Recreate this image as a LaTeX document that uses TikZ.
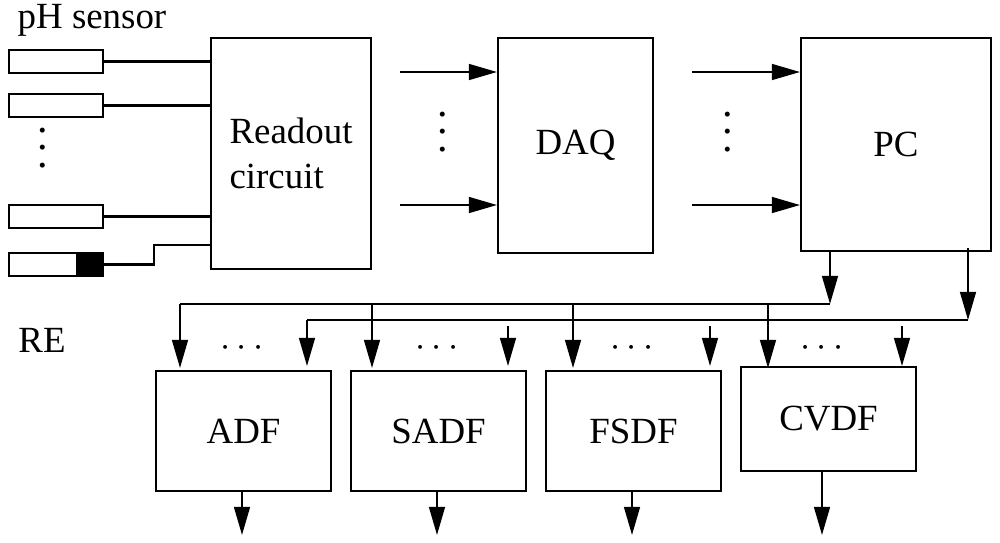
\documentclass[tikz,border=0pt]{standalone}
\usepackage{fontspec}
\setmainfont{Liberation Serif}
\usetikzlibrary{arrows.meta}
\tikzset{
  blk/.style={draw,line width=1.2pt,inner sep=0pt,font=\fontsize{21}{26}\selectfont,align=left},
  sens/.style={draw,line width=1.1pt,minimum width=1.88cm,minimum height=0.46cm,inner sep=0pt},
  wire/.style={line width=1.2pt},
  arr/.style={line width=1.2pt,-{Triangle[length=16pt,width=9pt]}},
  lbl/.style={font=\fontsize{21}{26}\selectfont,inner sep=0pt},
  vd/.style={font=\fontsize{24}{10}\selectfont,inner sep=0pt,align=center},
}
\begin{document}
\begin{tikzpicture}[x=0.02cm,y=-0.02cm]
  \useasboundingbox (0,0) rectangle (1000,542);
  % sensors
  \node[sens,anchor=north west] (s1) at (8,49) {};
  \node[sens,anchor=north west] (s2) at (8,93) {};
  \node[sens,anchor=north west] (s3) at (8,204) {};
  \node[sens,anchor=north west] (re) at (8,252) {};
  \fill (76,252) rectangle (104,276);
  \node[lbl] (pH) at (92,20) {pH sensor};
  \node[lbl] (relbl) at (42,340) {RE};
  \node[vd] (vd0) at (43,148) {.\\.\\.};
  % main blocks
  \node[blk,minimum width=3.2cm,minimum height=4.62cm,anchor=north west] (ro) at (210,37) {Readout\\circuit};
  \node[blk,minimum width=3.1cm,minimum height=4.3cm,anchor=north west] (daq) at (497,37) {DAQ};
  \node[blk,minimum width=3.8cm,minimum height=4.26cm,anchor=north west] (pc) at (800,37) {PC};
  \node[vd] (vd1) at (443,132) {.\\.\\.};
  \node[vd] (vd2) at (728,132) {.\\.\\.};
  % sensor wires
  \draw[wire] (s1.east) -- (s1.east -| ro.west);
  \draw[wire] (s2.east) -- (s2.east -| ro.west);
  \draw[wire] (s3.east) -- (s3.east -| ro.west);
  \draw[wire] (re.east) -- ++(50,0) |- (ro.west |- 0,245);
  % data arrows
  \draw[arr] (400,72) -- (daq.west |- 0,72);
  \draw[arr] (400,205) -- (daq.west |- 0,205);
  \draw[arr] (692,72) -- (pc.west |- 0,72);
  \draw[arr] (692,205) -- (pc.west |- 0,205);
  % filter blocks
  \node[blk,minimum width=3.5cm,minimum height=2.4cm,anchor=north west] (adf) at (155,370) {ADF};
  \node[blk,minimum width=3.5cm,minimum height=2.4cm,anchor=north west] (sadf) at (350,370) {SADF};
  \node[blk,minimum width=3.5cm,minimum height=2.4cm,anchor=north west] (fsdf) at (545,370) {FSDF};
  \node[blk,minimum width=3.5cm,minimum height=2.08cm,anchor=north west] (cvdf) at (740,366) {CVDF};
  % buses
  \coordinate (b1) at (830,304);
  \coordinate (b2) at (968,320);
  \draw[arr] (pc.south -| b1) -- (b1);
  \draw[arr] (968,248) -- (b2);
  \draw[wire] (b1) -- (180,304);
  \draw[wire] (b2) -- (307,320);
  \foreach \x in {180,372,573,768} \draw[arr] (\x,304) -- (\x,368);
  \draw[arr] (307,320) -- (307,366);
  \foreach \x in {508,710,902} \draw[arr] (\x,326) -- (\x,366);
  \foreach \x/\n in {242/adf,437/sadf,632/fsdf,822/cvdf} {
    \node[lbl] at (\x,348) {$\cdots$};
    \draw[arr] (\n.south -| \x,0) -- (\x,535);
  }
\end{tikzpicture}
\end{document}
